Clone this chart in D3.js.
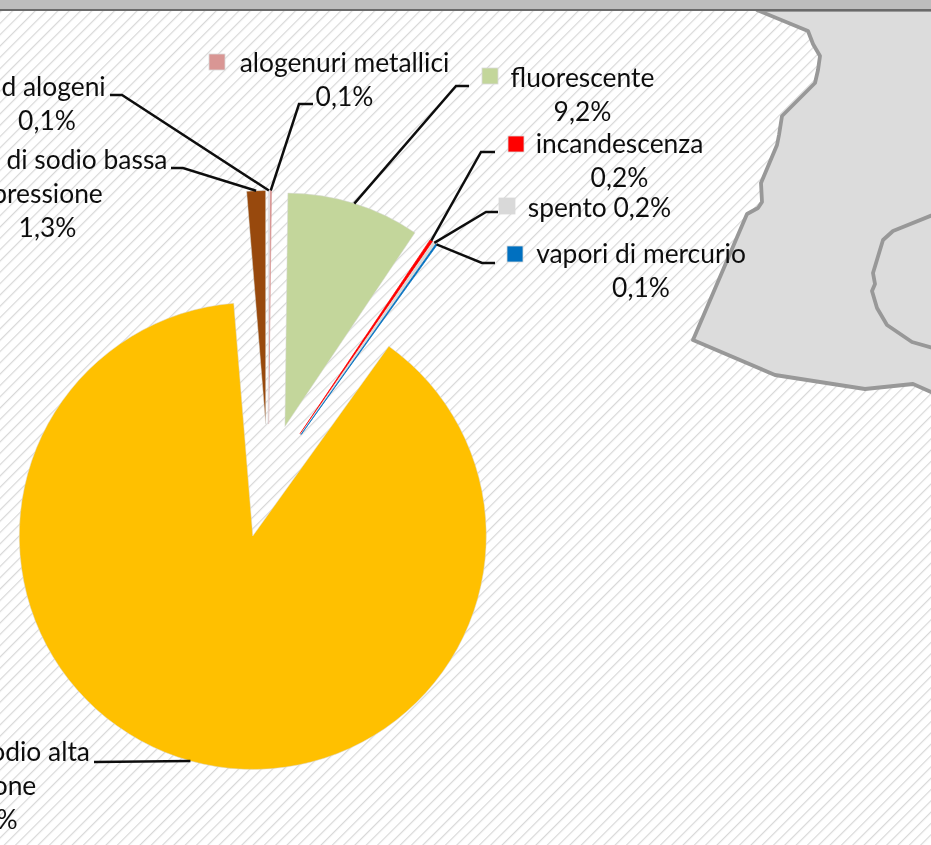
<!DOCTYPE html>
<html>
<head>
<meta charset="utf-8">
<script src="https://cdn.jsdelivr.net/npm/d3@7"></script>
<style>
    html, body { margin: 0; padding: 0; background: #fff; overflow: hidden; }
    svg { display: block; }
</style>
</head>
<body>
<div id="chart"></div>
<script>
// Chart data, clockwise from the top of the pie
const lampTypes = ["alogenuri metallici", "fluorescente", "incandescenza", "spento", "vapori di mercurio",
    "vapori di sodio alta pressione", "vapori di sodio bassa pressione", "ad alogeni"];
const lampShares = [0.1, 9.2, 0.2, 0.2, 0.1, 88.8, 1.3, 0.1];
const lampColors = ["#d99694", "#c3d69b", "#ff0000", "#d9d9d9", "#0070c0", "#ffc000", "#984807", "#e3dfe2"];

// Label lines as they wrap in the picture
const labelLines = [
    ["alogenuri metallici", "0,1%"],
    ["fluorescente", "9,2%"],
    ["incandescenza", "0,2%"],
    ["spento 0,2%"],
    ["vapori di mercurio", "0,1%"],
    ["vapori di sodio alta", "pressione", "88,8%"],
    ["vapori di sodio bassa", "pressione", "1,3%"],
    ["ad alogeni", "0,1%"]
];

// Label placement: text centre, first baseline, legend key, elbow of the leader
const labelLayout = [
    {cx: 344.5, y: 72, key: [209, 54], elbow: [[313, 104], [299, 104]]},
    {cx: 582.5, y: 87, key: [482, 68], elbow: [[469, 86], [456, 86]]},
    {cx: 619.5, y: 153, key: [508, 136], elbow: [[495, 152], [481, 152]]},
    {cx: 599.5, y: 217, key: [499, 198], elbow: [[498, 212], [486, 212]]},
    {cx: 641, y: 263, key: [507, 246], elbow: [[495, 263], [482, 263]]},
    {cx: -19, y: 761, elbow: [[94, 762]]},
    {cx: 47.5, y: 169, elbow: [[171, 168], [183, 168]]},
    {cx: 47, y: 96, elbow: [[110, 95], [122, 95]]}
];

// Grey map shapes behind the chart
const mapOutline = [[757, 10], [808, 31], [813, 44], [820, 56], [818, 70], [815, 83], [782, 116], [779, 135],
    [777, 145], [761, 183], [762, 202], [758, 208], [747, 214], [693, 340], [775, 375], [865, 389], [913, 384],
    [940, 396], [940, 10]];
const mapInner = [[940, 212], [893, 231], [883, 240], [873, 273], [875, 284], [872, 291], [877, 308], [887, 325],
    [912, 342], [940, 350]];

const width = 931, height = 845;
const pieCenter = [268, 481], radius = 233.5, explode = 57;
const startDeg = 0.36;

const svg = d3.select("#chart").append("svg")
    .attr("width", width)
    .attr("height", height)
    .style("font-family", "Lato, 'Noto Sans', sans-serif");

// Diagonal hatch of the sheet background
const defs = svg.append("defs");
const hatch = defs.append("pattern")
    .attr("id", "hatch")
    .attr("patternUnits", "userSpaceOnUse")
    .attr("width", 8)
    .attr("height", 8)
    .attr("patternTransform", "rotate(45)");
hatch.append("rect").attr("width", 8).attr("height", 8).attr("fill", "#fff");
hatch.append("line")
    .attr("x1", 0).attr("x2", 0).attr("y1", 0).attr("y2", 8)
    .attr("stroke", "#d8d8d8")
    .attr("stroke-width", 2.4);

defs.append("filter").attr("id", "soft")
    .append("feGaussianBlur").attr("stdDeviation", 0.45);

const page = svg.append("g").attr("filter", "url(#soft)");

page.append("rect")
    .attr("width", width)
    .attr("height", height)
    .attr("fill", "url(#hatch)");

// Map
const line = d3.line();
page.append("path")
    .attr("d", line(mapOutline) + "Z")
    .attr("fill", "#dcdcdc")
    .attr("stroke", "#989898")
    .attr("stroke-width", 3.8)
    .attr("stroke-linejoin", "round");
page.append("path")
    .attr("d", line(mapInner))
    .attr("fill", "none")
    .attr("stroke", "#989898")
    .attr("stroke-width", 3.8)
    .attr("stroke-linejoin", "round");

// Grey title strip along the top edge
page.append("rect")
    .attr("x", -5).attr("y", -5)
    .attr("width", width + 10).attr("height", 14.5)
    .attr("fill", "#bdbdbd");
page.append("rect")
    .attr("x", -5).attr("y", 9)
    .attr("width", width + 10).attr("height", 2)
    .attr("fill", "#6a6a6a");

// Pie
const startAngle = startDeg * Math.PI / 180;
const pie = d3.pie()
    .sort(null)
    .startAngle(startAngle)
    .endAngle(startAngle + 2 * Math.PI);
const arc = d3.arc().innerRadius(0).outerRadius(radius);

const slices = pie(lampShares).map((d, i) => {
    const mid = (d.startAngle + d.endAngle) / 2;
    return {...d, i, dirX: Math.sin(mid), dirY: -Math.cos(mid)};
});

const chart = page.append("g")
    .attr("transform", `translate(${pieCenter[0]},${pieCenter[1]})`);

// The thin slices get an outline in their own colour or they vanish
chart.selectAll(".slice")
    .data(slices)
    .enter()
    .append("path")
    .attr("class", "slice")
    .attr("d", arc)
    .attr("transform", d => `translate(${d.dirX * explode},${d.dirY * explode})`)
    .attr("fill", d => lampColors[d.i])
    .attr("stroke", d => d.value < 1 ? lampColors[d.i] : "#d9d9d9")
    .attr("stroke-width", d => d.value < 1 ? 0.7 : 0.5)
    .attr("stroke-linejoin", "round");

// Leader lines end on the outer edge of each slice
page.selectAll(".leader")
    .data(slices)
    .enter()
    .append("path")
    .attr("class", "leader")
    .attr("d", d => {
        const r = radius + explode;
        const end = [pieCenter[0] + d.dirX * r, pieCenter[1] + d.dirY * r];
        return line(labelLayout[d.i].elbow.concat([end]));
    })
    .attr("fill", "none")
    .attr("stroke", "#111")
    .attr("stroke-width", 2.5);

// Legend keys
page.selectAll(".key")
    .data(slices.filter(d => labelLayout[d.i].key))
    .enter()
    .append("rect")
    .attr("class", "key")
    .attr("x", d => labelLayout[d.i].key[0])
    .attr("y", d => labelLayout[d.i].key[1])
    .attr("width", 16)
    .attr("height", 16)
    .attr("fill", d => lampColors[d.i])
    .attr("stroke", "#d9d9d9")
    .attr("stroke-width", 0.8);

// Labels
const labels = page.selectAll(".label")
    .data(slices)
    .enter()
    .append("text")
    .attr("class", "label")
    .attr("text-anchor", "middle")
    .attr("font-size", 26.4)
    .attr("fill", "#111");

labels.selectAll("tspan")
    .data(d => labelLines[d.i].map((t, n) => ({t, n, layout: labelLayout[d.i]})))
    .enter()
    .append("tspan")
    .attr("x", d => d.layout.cx)
    .attr("y", d => d.layout.y + d.n * 34)
    .text(d => d.t);
</script>
</body>
</html>
